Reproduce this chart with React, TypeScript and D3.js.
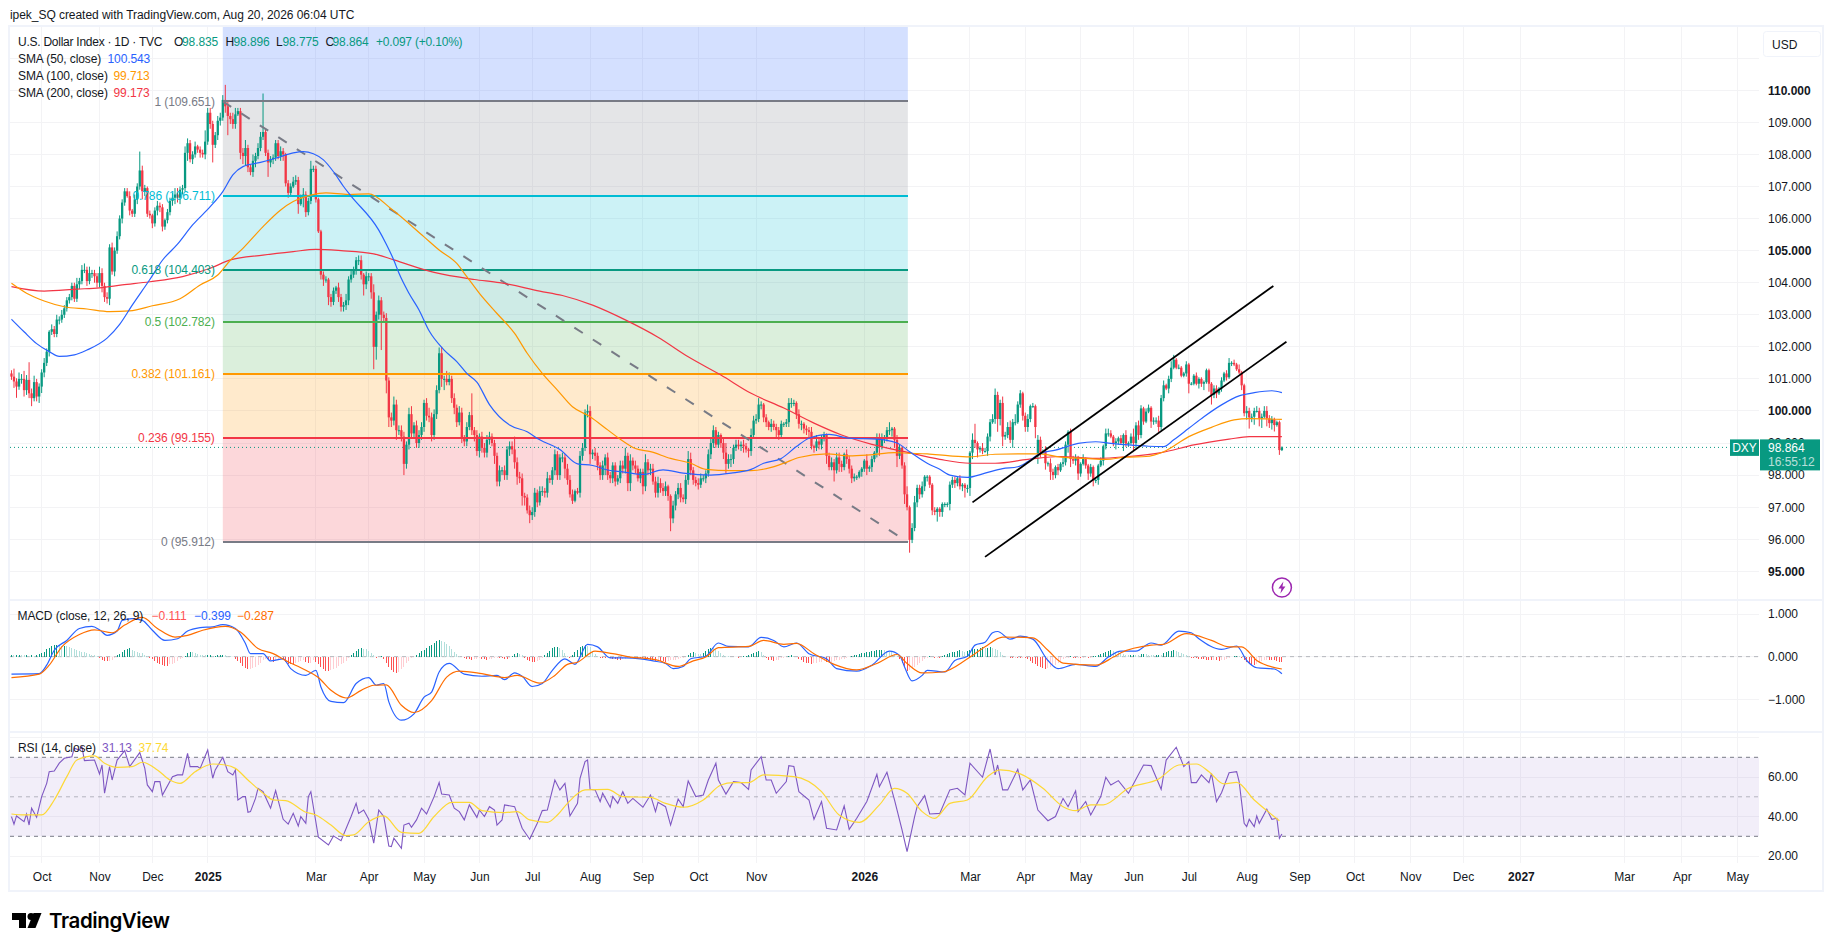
import React, { useEffect, useRef } from 'react';
import * as d3 from 'd3';

// bar 0 is the first weekday on screen
const firstBarDate = '2024-09-13';

// daily closes, one line per month
const closes = [
  101.07,100.92,100.76,101.0,101.0,100.65,100.97,100.55,100.4,100.9,100.45,100.76,
  101.2,101.5,101.85,102.47,102.55,102.4,102.85,102.85,103.0,103.2,103.45,103.55,103.9,103.5,103.95,104.05,104.4,104.4,104.05,104.3,104.3,104.2,104.0,
  104.3,103.9,103.55,103.5,105.1,104.35,105.0,105.45,106.0,106.5,106.85,106.7,106.25,106.15,106.6,107.0,107.5,106.85,106.95,106.15,106.1,
  105.85,106.25,106.4,106.35,105.75,105.95,106.2,106.55,106.65,106.75,106.65,106.9,106.95,108.05,108.35,107.85,108.0,108.25,108.15,108.05,108.0,108.4,
  109.3,108.95,108.3,108.6,109.05,109.15,109.7,109.5,109.2,109.1,108.95,109.25,109.35,108.05,107.95,108.2,107.6,107.45,107.8,107.95,108.2,108.55,108.7,
  108.05,107.75,107.85,107.9,108.35,107.95,108.1,108.0,107.1,106.8,107.0,107.15,107.2,106.45,106.65,106.75,106.2,106.55,107.55,107.55,
  106.6,105.6,104.25,104.1,104.1,103.55,103.4,103.75,103.85,103.55,103.25,103.3,103.45,104.1,104.25,104.4,104.7,104.7,104.25,103.95,104.2,
  104.2,103.7,102.0,103.0,103.45,103.0,102.9,100.95,99.8,99.7,100.2,99.4,99.4,99.2,98.35,98.95,99.9,99.3,99.55,99.0,99.25,99.5,
  100.25,99.85,99.8,99.25,99.9,100.65,101.8,101.0,101.0,100.9,101.0,100.4,100.1,99.65,99.95,99.15,99.05,99.5,99.87,99.4,99.25,98.75,
  99.2,98.85,98.7,99.1,99.2,99.0,98.6,97.8,98.15,98.15,98.0,98.8,98.9,98.8,98.4,97.95,97.9,97.35,97.3,96.9,96.75,
  96.85,97.45,97.15,97.5,97.5,97.45,97.9,97.85,98.15,98.65,98.0,98.55,98.55,98.2,97.85,97.4,97.2,97.5,97.45,98.6,98.85,99.95,100.0,
  98.65,98.7,98.6,98.3,98.0,98.3,98.55,98.0,97.9,98.3,97.8,97.9,98.3,98.2,98.6,97.75,98.45,98.3,98.2,97.9,98.1,
  97.65,98.4,98.15,98.2,97.8,97.45,97.75,97.6,97.5,97.65,97.35,96.65,97.05,97.4,97.6,97.3,97.25,97.85,98.5,98.15,97.85,97.75,
  97.7,97.9,97.9,98.05,98.65,99.0,99.4,98.95,99.25,99.0,98.7,98.35,98.5,98.5,98.85,98.95,98.9,98.95,98.9,98.8,98.75,99.25,99.7,
  99.75,100.2,100.2,99.8,99.65,99.5,99.6,99.5,99.4,99.25,99.6,99.6,99.65,100.25,100.25,100.25,99.9,99.6,99.6,99.45,
  99.4,99.35,98.9,98.85,99.05,98.95,99.15,99.25,98.6,98.25,98.4,98.15,98.55,98.35,98.25,98.65,98.5,98.2,97.9,97.95,97.95,98.1,98.2,
  98.45,98.2,98.25,98.5,98.7,99.15,98.9,99.15,99.15,99.4,99.4,99.45,99.1,98.6,98.85,98.3,97.4,97.0,95.98,96.35,97.15,97.6,
  97.4,97.65,97.95,97.95,97.7,96.9,96.85,96.95,96.85,97.1,97.1,97.1,97.7,97.85,97.75,97.9,97.65,97.7,97.6,97.6,
  98.7,99.1,99.0,98.8,98.85,98.75,98.75,99.2,99.65,99.75,100.5,99.75,100.25,99.2,99.25,99.5,99.1,99.65,99.65,100.2,100.55,99.85,
  99.5,99.75,100.15,100.15,99.5,99.1,98.7,98.75,98.37,98.37,98.1,98.0,98.25,98.15,98.35,98.4,98.95,99.35,98.5,98.45,98.55,98.05,
  98.35,98.5,98.3,98.05,98.25,97.85,97.85,98.3,98.45,98.9,99.3,99.3,99.2,99.0,99.05,99.15,99.0,99.25,98.98,99.0,99.2,
  99.0,99.55,99.25,100.08,99.67,99.98,100.1,99.67,99.7,99.7,99.5,100.4,100.8,100.7,101.0,101.35,101.6,101.35,101.35,101.1,101.17,101.45,
  100.85,100.85,101.1,100.85,101.0,100.85,100.9,101.27,100.85,100.5,100.7,100.55,100.7,100.95,101.17,101.05,101.5,101.5,101.45,101.3,101.2,100.8,99.93,
  100.0,99.8,99.82,100.0,100.0,99.77,99.82,100.0,99.77,99.62,99.74,99.56,99.65,98.78,98.864,
];

// bars whose open is not the previous close
const gapOpens: Record<number, number> = { 408: 98.65 };

// wick lengths above and below the body, in hundredths
const upperWicks = [
  10,25,10,20,15,25,15,55,15,20,10,10,
  10,15,10,5,15,10,15,10,15,10,10,10,10,10,20,10,15,20,10,20,10,10,10,
  20,15,10,15,10,15,10,15,10,10,10,10,15,5,15,10,59,15,10,5,10,
  5,10,15,10,10,5,10,10,15,20,20,10,10,20,15,10,10,15,5,10,10,35,
  15,15,10,10,15,15,15,47,15,10,20,20,10,10,15,25,10,10,20,10,15,15,120,
  10,10,10,10,10,10,15,10,5,10,10,15,15,10,10,20,10,10,25,10,
  10,5,5,10,10,5,10,10,5,15,10,10,20,10,15,10,10,15,15,5,15,
  10,10,25,10,15,10,10,15,10,15,25,15,15,15,15,10,20,25,10,15,15,15,
  10,15,25,15,15,15,18,20,10,25,20,10,15,10,20,15,10,15,10,68,10,15,
  10,15,15,15,15,10,10,10,15,10,15,10,15,15,40,15,15,15,10,10,15,
  15,15,10,15,15,10,20,10,10,15,10,10,15,10,15,15,15,5,10,15,15,10,20,
  15,10,15,10,10,15,10,15,10,10,10,10,15,15,25,10,20,10,15,10,10,
  10,25,10,15,15,15,20,15,15,15,5,5,15,10,15,15,10,15,25,20,10,10,
  15,15,10,10,15,15,15,10,10,5,15,30,15,15,10,15,15,10,15,10,5,20,15,
  15,20,10,5,10,5,15,10,10,10,10,5,10,15,15,10,5,15,10,5,
  10,10,15,5,20,10,10,10,5,10,15,10,15,15,10,5,15,10,10,10,5,5,5,
  5,20,5,10,5,15,15,15,10,10,25,5,5,15,10,5,10,25,5,15,20,10,
  10,15,5,5,5,5,10,5,5,5,5,5,10,10,10,5,10,5,5,10,
  5,20,50,5,5,15,10,10,10,15,20,10,10,20,10,15,20,10,25,10,10,5,
  10,15,5,10,5,15,10,5,15,5,15,10,5,10,5,15,10,5,10,10,10,5,
  5,15,5,5,10,5,5,5,10,5,15,15,10,5,10,5,10,5,15,5,10,
  25,10,15,10,5,10,10,5,10,10,15,10,15,5,10,20,15,5,10,5,5,10,
  5,5,5,10,5,5,5,5,5,5,10,10,5,10,5,10,15,5,10,5,15,5,5,
  15,10,10,10,15,10,10,15,15,10,10,5,5,5,3,
];
const lowerWicks = [
  10,20,35,10,15,20,15,15,25,10,15,20,
  20,15,10,15,10,10,10,15,10,10,10,10,10,10,10,15,10,10,15,10,15,20,15,
  15,20,15,15,20,10,15,10,10,15,10,5,15,10,10,15,10,25,15,10,10,
  15,10,15,15,15,10,10,10,15,20,15,20,15,10,25,10,15,10,10,15,10,15,
  10,15,55,10,15,15,10,20,60,15,15,15,5,20,25,30,15,10,15,20,10,10,10,
  10,45,15,15,10,10,15,20,10,15,10,5,10,30,5,30,15,10,10,10,
  10,5,15,20,10,25,15,10,10,15,15,15,15,15,10,10,15,15,15,35,15,
  15,20,70,40,15,110,15,40,30,20,15,30,15,15,35,15,15,15,15,15,15,15,
  15,15,15,20,15,15,10,25,35,10,10,15,20,15,10,15,15,15,10,15,20,15,
  20,15,15,15,15,10,25,15,15,15,15,15,20,15,20,25,15,30,25,10,25,
  15,15,15,10,15,15,15,10,15,15,15,15,15,30,15,10,10,5,5,15,15,10,15,
  30,15,15,15,15,15,30,15,15,15,15,10,15,15,15,25,25,15,15,10,15,
  25,15,15,15,10,15,15,15,15,15,15,40,15,15,15,15,10,15,15,15,15,10,
  15,10,10,15,10,15,15,10,10,15,20,30,15,25,15,10,10,15,20,10,20,15,10,
  10,10,15,15,15,10,15,10,25,15,10,10,10,15,15,10,15,15,20,15,
  15,20,10,15,10,15,15,10,25,10,10,35,10,25,15,10,15,15,15,10,10,5,15,
  10,20,10,15,10,15,30,10,15,10,15,20,25,35,10,10,30,10,40,10,10,15,
  15,10,15,15,10,15,10,30,15,15,10,10,20,10,15,10,10,15,30,15,
  25,20,15,25,10,10,5,15,15,5,15,40,20,30,10,10,10,25,10,5,10,15,
  15,15,10,5,35,30,15,5,20,10,25,15,10,15,5,10,10,25,25,10,15,20,
  10,5,10,20,10,20,10,15,5,15,10,10,5,10,20,10,5,25,10,10,5,
  25,15,15,10,10,5,5,20,10,10,15,10,10,5,15,10,5,5,5,5,5,10,
  30,5,5,5,15,10,20,5,25,30,10,15,5,10,5,10,5,10,5,5,5,15,10,
  20,35,15,25,5,25,30,5,25,15,20,20,5,15,3,
];

// moving averages as bar / value vertices
const sma50Bars = [0,5,10,15,19,25,30,38,43,48,55,60,66,72,79,84,88,92,99,105,112,116,120,124,128,132,135,146,149,152,154,158,162,166,172,177,181,185,190,198,205,210,218,225,231,237,243,251,259,267,278,286,294,299,306,312,317,325,333,344,352,357,364,369,373,380,387,394,400,404,409,415,420,424,431,437,444,452,458,462,468,474,481,488,494,501,505];
const sma50Values = [102.86,102.47,102.1,101.85,101.7,101.75,101.9,102.27,102.7,103.3,104.1,104.7,105.2,105.8,106.37,106.84,107.36,107.62,107.75,107.88,108.05,108.09,108.02,107.83,107.46,107.0,106.7,105.64,105.2,104.7,104.3,103.67,103.15,102.5,101.9,101.54,101.17,100.9,100.2,99.56,99.35,99.1,98.8,98.35,98.3,98.16,98.1,98.02,98.16,98.06,98.0,98.06,98.18,98.37,98.52,98.89,99.15,99.27,99.15,99.12,99.0,98.73,98.37,98.18,98.0,97.93,98.06,98.2,98.26,98.42,98.68,98.78,98.9,98.99,99.04,98.99,98.94,98.9,98.89,99.1,99.46,99.82,100.19,100.47,100.57,100.63,100.57];
const sma100Bars = [0,6,13,21,30,39,47,56,67,75,82,87,92,100,107,112,119,125,134,142,151,164,170,177,181,186,193,200,205,211,217,223,230,237,242,248,254,262,270,276,286,294,302,307,313,324,333,341,351,357,364,373,381,391,400,409,417,427,435,443,451,458,468,477,486,492,505];
const sma100Values = [103.98,103.67,103.43,103.25,103.18,103.1,103.12,103.28,103.5,103.93,104.24,104.7,105.07,105.75,106.27,106.53,106.73,106.8,106.75,106.77,106.3,105.43,105.02,104.6,104.19,103.67,103.04,102.42,101.8,101.17,100.65,100.13,99.82,99.41,99.12,98.83,98.73,98.52,98.37,98.18,98.14,98.14,98.24,98.37,98.55,98.66,98.6,98.63,98.7,98.68,98.66,98.6,98.57,98.65,98.66,98.66,98.56,98.52,98.49,98.56,98.58,98.73,99.2,99.49,99.72,99.76,99.74];
const sma200Bars = [0,13,26,35,44,55,68,79,87,100,112,121,131,144,152,168,184,194,210,219,231,244,257,269,282,294,307,319,330,342,355,369,381,391,404,417,431,444,457,470,484,492,505];
const sma200Values = [103.88,103.74,103.8,103.84,103.93,104.03,104.19,104.45,104.71,104.86,104.97,105.04,105.0,104.9,104.71,104.32,104.1,104.0,103.74,103.6,103.3,102.84,102.3,101.69,101.12,100.55,100.09,99.62,99.25,98.96,98.73,98.49,98.37,98.37,98.49,98.58,98.52,98.58,98.7,98.94,99.12,99.2,99.2];

const macdBars = [0,11,14,17,22,27,32,35,38,42,44,48,52,56,61,66,70,75,80,84,89,93,95,100,103,108,111,117,121,123,127,132,137,142,145,148,150,155,160,164,167,170,174,180,187,193,196,200,203,207,211,215,220,224,229,233,238,244,250,255,260,263,267,270,276,281,285,293,298,303,307,312,317,324,328,336,342,349,353,355,358,362,364,371,375,380,383,387,390,392,397,401,406,412,416,423,431,436,441,447,453,457,464,469,472,481,487,491,495,502,505];
const macdValues = [-0.41,-0.40,-0.20,0.15,0.38,0.66,0.71,0.63,0.50,0.60,0.85,0.89,0.85,0.62,0.38,0.42,0.60,0.68,0.70,0.75,0.66,0.31,0.07,0.07,-0.10,-0.05,-0.28,-0.44,-0.32,-0.71,-1.05,-1.08,-0.63,-0.49,-0.67,-0.63,-1.06,-1.49,-1.34,-0.95,-0.83,-0.36,-0.16,-0.41,-0.46,-0.44,-0.54,-0.38,-0.46,-0.70,-0.63,-0.32,-0.05,-0.18,0.29,0.23,-0.03,-0.03,-0.05,-0.10,-0.16,-0.28,-0.23,-0.05,0.01,0.32,0.24,0.23,0.45,0.38,0.23,0.32,0.07,-0.05,-0.28,-0.34,-0.20,0.13,0.03,-0.24,-0.57,-0.44,-0.32,-0.36,-0.09,0.01,0.27,0.34,0.56,0.59,0.41,0.48,0.41,-0.09,-0.28,-0.18,-0.23,-0.01,0.13,0.13,0.32,0.27,0.60,0.56,0.42,0.17,0.25,-0.09,-0.26,-0.29,-0.40];
const signalBars = [0,11,15,20,27,33,40,45,52,58,65,70,76,85,91,98,104,109,117,122,127,133,139,144,149,155,160,167,173,178,187,196,201,210,216,221,225,232,239,246,254,256,265,271,276,281,293,299,307,312,319,327,336,344,352,356,362,370,380,387,394,406,412,418,431,438,441,453,458,467,477,484,489,495,505];
const signalValues = [-0.49,-0.41,-0.20,0.23,0.52,0.63,0.56,0.74,0.92,0.66,0.46,0.50,0.62,0.71,0.58,0.19,0.07,-0.09,-0.32,-0.49,-0.79,-0.97,-0.79,-0.67,-0.66,-1.14,-1.31,-1.03,-0.48,-0.34,-0.40,-0.49,-0.44,-0.62,-0.44,-0.18,-0.13,0.13,0.07,-0.01,-0.05,-0.07,-0.23,-0.10,-0.01,0.21,0.24,0.38,0.29,0.31,0.07,-0.18,-0.31,-0.16,0.05,-0.16,-0.38,-0.36,-0.05,0.23,0.46,0.44,0.15,-0.15,-0.20,-0.01,0.09,0.27,0.29,0.54,0.38,0.23,0.23,-0.09,-0.29];

// histogram per bar, in hundredths
const macdHist = [
  5,4,4,5,4,3,3,2,3,2,3,6,
  8,12,17,20,24,27,28,27,25,25,24,22,20,18,16,14,12,10,9,7,5,3,1,
  -4,-8,-10,-11,-10,-7,-3,3,7,11,16,19,20,16,13,11,9,8,5,2,-2,
  -6,-10,-14,-18,-20,-22,-22,-18,-17,-14,-10,-6,-3,1,9,12,10,8,6,5,4,3,
  3,3,2,2,3,4,4,3,2,1,-1,-5,-10,-16,-22,-27,-30,-29,-27,-24,-20,-14,-9,
  -5,-6,-9,-12,-10,-7,-6,-8,-13,-17,-18,-18,-14,-12,-10,-9,-12,-16,-15,-8,
  -12,-18,-24,-30,-33,-33,-32,-30,-26,-22,-18,-14,-10,-3,4,9,14,18,20,19,17,
  13,8,3,-2,-1,1,-6,-14,-25,-32,-36,-38,-36,-30,-24,-16,-10,-4,0,3,8,13,
  16,20,24,28,33,37,38,36,34,30,24,18,12,6,2,-1,-3,-5,-6,-7,-6,-5,
  -4,-5,-6,-7,-6,-5,-3,-2,-2,-4,-5,-6,-2,2,6,8,6,3,-3,-7,-10,
  -12,-13,-10,-8,-2,4,9,14,20,23,23,21,16,8,1,-2,4,10,16,22,25,28,26,
  22,14,6,2,-2,-3,-3,-1,-3,-5,-6,-7,-8,-6,-5,-4,-4,-2,-1,-2,-3,
  -4,-5,-6,-8,-9,-10,-9,-10,-11,-12,-10,-9,-8,-7,-5,-4,-2,-1,4,9,10,9,
  7,6,8,14,19,21,20,17,13,9,5,2,1,0,-1,-1,-2,-1,1,2,4,7,9,
  12,13,11,5,-3,-7,-9,-10,-9,-7,-4,-2,-1,1,3,2,-1,-5,-9,-12,
  -14,-16,-17,-15,-14,-13,-12,-11,-12,-14,-12,-10,-9,-8,-6,-5,-3,-1,1,3,5,6,8,
  9,11,12,13,14,15,15,16,15,14,12,10,6,2,-5,-14,-24,-33,-32,-28,-24,-20,
  -15,-10,-6,-2,1,-1,-3,-2,-2,1,4,7,9,11,12,14,15,13,12,13,
  15,17,18,19,20,22,20,21,22,21,18,16,10,5,2,-1,-2,-3,-2,-3,-4,-2,
  -2,-6,-10,-14,-18,-22,-25,-27,-28,-26,-24,-22,-19,-15,-10,-6,-3,-2,1,-2,-3,-2,
  -3,-2,-1,-3,-2,1,2,3,6,9,12,14,15,14,12,10,8,6,5,4,5,
  5,4,3,6,7,6,5,4,3,4,5,4,9,12,13,14,15,13,11,8,6,3,
  2,-2,-3,-4,-5,-6,-6,-7,-8,-8,-7,-9,-10,-9,-7,-5,-3,-1,1,2,1,-3,-8,
  -12,-16,-19,-20,-18,-12,-10,-8,-7,-7,-8,-9,-10,-12,-13,
];

const rsiBars = [0,1,2,5,6,7,8,10,12,14,15,17,19,21,24,25,27,28,29,33,35,36,37,39,40,42,45,47,51,53,54,56,57,59,60,64,66,68,70,71,74,75,78,80,81,84,86,88,89,90,92,93,94,95,97,98,100,103,105,108,110,112,114,115,117,118,119,122,126,128,131,135,137,138,140,142,144,146,148,150,151,152,155,156,158,159,161,163,165,168,170,171,174,176,178,180,182,185,186,188,190,192,193,195,196,200,203,206,209,211,213,216,218,220,222,225,226,228,229,230,232,234,235,238,239,241,243,245,247,251,254,256,257,260,262,265,267,269,272,275,277,280,281,284,287,290,293,294,298,300,302,304,308,309,311,313,317,319,322,324,328,331,333,336,340,344,345,348,351,354,356,359,360,363,365,369,373,376,379,381,386,389,391,392,394,396,400,402,405,408,412,415,418,420,423,424,427,429,433,435,437,440,444,450,453,457,459,463,466,468,469,471,473,476,477,479,481,484,487,488,490,491,492,494,495,496,499,501,503,504,505];
const rsiValues = [40.0,36.1,40.3,37.4,41.3,35.7,44.2,39.6,50.1,56.8,62.7,63.1,67.0,69.5,70.3,74.6,73.7,75.4,68.3,68.6,61.6,66.1,51.8,65.3,58.5,68.6,73.4,65.3,72.4,64.4,56.0,52.6,57.7,57.7,50.9,60.2,61.1,61.1,72.0,65.3,65.3,64.4,73.7,59.4,63.6,70.0,62.7,61.1,63.6,48.4,50.1,50.1,42.2,42.5,49.2,54.3,52.6,44.2,53.1,38.6,36.2,41.6,35.2,40.0,36.6,50.1,52.6,29.5,25.6,30.2,27.8,40.0,46.7,41.6,43.3,38.6,26.5,43.3,40.0,25.1,24.8,29.0,23.9,35.7,36.6,34.6,38.3,44.2,41.3,50.1,57.2,51.4,50.9,44.2,42.5,38.3,45.9,39.6,43.3,40.0,45.0,43.3,35.7,38.3,45.9,45.0,34.1,28.5,36.6,43.0,43.3,58.5,53.5,56.8,40.3,46.7,59.4,67.8,68.6,53.8,53.5,47.6,51.8,44.7,50.1,46.7,52.6,46.7,49.2,44.7,50.9,42.5,47.2,45.0,35.7,48.9,45.0,58.0,50.1,50.9,58.5,67.0,58.5,51.4,57.7,57.2,53.8,63.6,70.3,58.5,58.5,51.8,57.7,65.8,65.3,52.6,48.4,38.6,47.6,34.1,33.2,45.4,33.5,39.1,47.6,61.4,55.1,62.4,48.4,33.2,22.2,40.0,45.0,50.6,41.3,41.6,53.5,54.3,50.9,67.0,59.9,74.2,61.1,66.1,53.5,53.5,63.9,53.5,58.5,43.3,37.9,40.0,49.2,45.0,53.0,42.5,47.6,40.8,50.1,59.9,56.0,58.2,51.8,66.1,65.8,53.8,68.6,75.1,65.3,67.8,57.2,57.2,61.1,57.2,61.9,47.6,52.1,62.2,62.7,57.7,36.6,34.9,38.6,34.9,40.3,36.6,43.7,38.6,39.1,29.0,31.2];
const rsiMaBars = [0,5,12,17,22,26,33,37,42,48,52,58,63,67,73,80,85,89,94,101,104,109,117,121,127,133,136,142,148,155,162,168,175,182,187,196,201,206,213,217,221,228,237,243,254,260,267,275,282,287,293,299,311,322,329,337,345,351,356,362,367,373,380,388,393,401,410,418,423,429,434,444,456,464,471,476,482,487,494,499,504];
const rsiMaValues = [41.3,40.8,40.8,48.4,60.2,68.6,70.7,67.0,64.9,65.3,67.5,63.6,58.5,56.8,62.7,66.6,66.1,64.4,58.5,50.9,48.4,48.1,42.2,40.8,35.7,30.3,30.7,37.4,40.3,32.0,31.5,40.0,47.2,47.2,43.0,42.0,42.5,38.3,37.1,40.8,46.7,53.5,53.8,50.1,49.7,46.7,44.7,48.4,56.0,57.2,57.2,61.1,60.2,52.6,40.8,37.1,45.9,54.3,51.8,42.5,39.1,46.7,48.4,60.2,63.6,61.6,54.3,45.0,43.0,45.9,45.9,54.3,59.0,66.1,66.6,62.7,56.5,57.3,48.4,43.0,37.9];

// fibonacci retracement
const fibRatios = ['1', '0.786', '0.618', '0.5', '0.382', '0.236', '0'];
const fibPrices = [109.651, 106.711, 104.403, 102.782, 101.161, 99.155, 95.912];
const fibColors = ['#787b86', '#00bcd4', '#089981', '#4caf50', '#ff9800', '#f23645', '#787b86'];
const fibTopPrice = 118.14;
const fibStartBar = 84;
const fibEndBar = 356.3;

// hand drawn channel, [bar, price] ends
const channelUpper = [[382, 97.15], [501.6, 103.9]];
const channelLower = [[387, 95.45], [506.8, 102.16]];

const priceTicks = [110, 109, 108, 107, 106, 105, 104, 103, 102, 101, 100, 99, 98, 97, 96, 95];
const priceGrid = [111, ...priceTicks];
const boldPrices = [110, 105, 100, 95];
const macdTicks = [1, 0, -1];
const rsiTicks = [60, 40, 20];
const rsiGrid = [80, 60, 40, 20];
const lastPrice = 98.864;

const timeTicks = ['2024-10-01','2024-11-01','2024-12-02','2025-01-01','2025-03-03','2025-04-01','2025-05-01','2025-06-02','2025-07-01','2025-08-01','2025-09-01','2025-10-01','2025-11-03','2026-01-01','2026-03-02','2026-04-01','2026-05-01','2026-06-01','2026-07-01','2026-08-03','2026-09-01','2026-10-01','2026-11-02','2026-12-01','2027-01-01','2027-03-01','2027-04-01','2027-05-03'];
const timeLabels = ['Oct','Nov','Dec','2025','Mar','Apr','May','Jun','Jul','Aug','Sep','Oct','Nov','2026','Mar','Apr','May','Jun','Jul','Aug','Sep','Oct','Nov','Dec','2027','Mar','Apr','May'];

const FONT = '"Liberation Sans", Arial, sans-serif';
const UP = '#089981';
const DOWN = '#f23645';
const GRID = '#f3f3f5';
const BORDER = '#f0f3fa';

const barOf = (date: string) =>
  d3.utcDay.range(new Date(firstBarDate), new Date(date)).filter((d) => d.getUTCDay() % 6 !== 0).length;

const zip = (xs: number[], ys: number[]) => xs.map((x, i) => [x, ys[i]] as [number, number]);

function drawText(g: any, x: number, y: number, text: string, fill: string, opts: any = {}) {
  return g
    .append('text')
    .attr('x', x)
    .attr('y', y)
    .attr('dy', '0.36em')
    .attr('fill', fill)
    .attr('font-size', opts.size ?? 12)
    .attr('font-weight', opts.weight ?? 400)
    .attr('text-anchor', opts.anchor ?? 'start')
    .attr('opacity', opts.opacity ?? 1)
    .attr('letter-spacing', opts.spacing ?? 0)
    .text(text);
}

const App: React.FC = () => {
  const svgRef = useRef<SVGSVGElement>(null);

  useEffect(() => {
    if (!svgRef.current) return;
    const svg = d3.select(svgRef.current);
    svg.selectAll('*').remove();
    svg.attr('font-family', FONT);

    const left = 10;
    const right = 1759;
    const paneTop = 27;
    const priceBottom = 600;
    const macdBottom = 732;
    const rsiBottom = 862;
    const frameBottom = 891;
    const frameRight = 1823;

    const x = d3.scaleLinear().domain([78, 339]).range([207.7, 864.3]);
    const yPrice = d3.scaleLinear().domain([110, 95]).range([90.3, 571.3]);
    const yMacd = d3.scaleLinear().domain([1, -1]).range([614, 699.3]);
    const yRsi = d3.scaleLinear().domain([70, 30]).range([757.3, 836.3]);

    const defs = svg.append('defs');
    defs.append('clipPath').attr('id', 'price-clip').append('rect')
      .attr('x', left).attr('y', paneTop).attr('width', right - left).attr('height', priceBottom - paneTop);

    svg.append('rect').attr('width', 1835).attr('height', 951).attr('fill', '#fff');

    // grid
    const grid = svg.append('g').attr('stroke', GRID).attr('stroke-width', 1).attr('shape-rendering', 'crispEdges');
    const hLine = (y: number) => grid.append('line').attr('x1', left).attr('x2', right).attr('y1', y).attr('y2', y);
    priceGrid.forEach((v) => hLine(yPrice(v)));
    macdTicks.forEach((v) => hLine(yMacd(v)));
    rsiGrid.forEach((v) => hLine(yRsi(v)));
    timeTicks.forEach((t) => {
      const xt = x(barOf(t));
      grid.append('line').attr('x1', xt).attr('x2', xt).attr('y1', paneTop).attr('y2', rsiBottom + 1);
    });

    // price pane
    const price = svg.append('g').attr('clip-path', 'url(#price-clip)');
    const fibX0 = x(fibStartBar);
    const fibX1 = x(fibEndBar);
    price.append('rect').attr('x', fibX0).attr('width', fibX1 - fibX0)
      .attr('y', yPrice(fibTopPrice)).attr('height', yPrice(fibPrices[0]) - yPrice(fibTopPrice))
      .attr('fill', '#2962ff').attr('opacity', 0.2);
    fibPrices.slice(0, -1).forEach((p, i) => {
      price.append('rect').attr('x', fibX0).attr('width', fibX1 - fibX0)
        .attr('y', yPrice(p)).attr('height', yPrice(fibPrices[i + 1]) - yPrice(p))
        .attr('fill', fibColors[i]).attr('opacity', 0.2);
    });
    // price line under the candles
    price.append('line').attr('x1', left).attr('x2', right).attr('y1', yPrice(lastPrice)).attr('y2', yPrice(lastPrice))
      .attr('stroke', UP).attr('stroke-width', 1).attr('stroke-dasharray', '1 3');

    const bars = closes.map((c, i) => {
      const o = gapOpens[i] ?? (i === 0 ? c + 0.1 : closes[i - 1]);
      return {
        i,
        o,
        c,
        h: Math.max(o, c) + upperWicks[i] / 100,
        l: Math.min(o, c) - lowerWicks[i] / 100,
      };
    });
    const candles = price.append('g');
    candles.selectAll('line').data(bars).enter().append('line')
      .attr('x1', (d) => x(d.i)).attr('x2', (d) => x(d.i))
      .attr('y1', (d) => yPrice(d.h)).attr('y2', (d) => yPrice(d.l))
      .attr('stroke', (d) => (d.c >= d.o ? UP : DOWN)).attr('stroke-width', 1);
    candles.selectAll('rect').data(bars).enter().append('rect')
      .attr('x', (d) => x(d.i) - 1.15).attr('width', 2.3)
      .attr('y', (d) => yPrice(Math.max(d.o, d.c)))
      .attr('height', (d) => Math.max(1, Math.abs(yPrice(d.o) - yPrice(d.c))))
      .attr('fill', (d) => (d.c >= d.o ? UP : DOWN));

    // fib lines
    fibPrices.forEach((p, i) => {
      price.append('line').attr('x1', fibX0).attr('x2', fibX1).attr('y1', yPrice(p)).attr('y2', yPrice(p))
        .attr('stroke', fibColors[i]).attr('stroke-width', 2).attr('shape-rendering', 'crispEdges');
    });
    price.append('line')
      .attr('x1', fibX0).attr('y1', yPrice(fibPrices[0]))
      .attr('x2', fibX1).attr('y2', yPrice(fibPrices[6]))
      .attr('stroke', '#787b86').attr('stroke-width', 2).attr('stroke-dasharray', '10 12');

    const smoothPrice = d3.line<[number, number]>().x((d) => x(d[0])).y((d) => yPrice(d[1])).curve(d3.curveMonotoneX);
    [
      [sma200Bars, sma200Values, DOWN],
      [sma100Bars, sma100Values, '#ff9800'],
      [sma50Bars, sma50Values, '#2962ff'],
    ].forEach(([bs, vs, color]: any) => {
      price.append('path').attr('d', smoothPrice(zip(bs, vs))).attr('fill', 'none').attr('stroke', color).attr('stroke-width', 1.2);
    });

    const straight = d3.line<number[]>().x((d) => x(d[0])).y((d) => yPrice(d[1]));
    [channelUpper, channelLower].forEach((c) => {
      price.append('path').attr('d', straight(c)).attr('fill', 'none').attr('stroke', '#000').attr('stroke-width', 1.8);
    });

    // fib labels, right aligned against the left edge of the tool
    fibPrices.forEach((p, i) => {
      drawText(svg, fibX0 - 8, yPrice(p), `${fibRatios[i]} (${p.toFixed(3)})`, fibColors[i], { anchor: 'end', spacing: -0.1 });
    });

    // MACD pane
    const macd = svg.append('g');
    macd.append('line').attr('x1', left).attr('x2', right).attr('y1', yMacd(0)).attr('y2', yMacd(0))
      .attr('stroke', '#787b86').attr('stroke-opacity', 0.5).attr('stroke-dasharray', '4 4');
    macd.append('g').attr('shape-rendering', 'crispEdges').selectAll('rect').data(macdHist).enter().append('rect')
      .attr('x', (_d, i) => x(i) - 0.5).attr('width', 1)
      .attr('y', (d) => yMacd(Math.max(d, 0) / 100))
      .attr('height', (d) => Math.abs(yMacd(d / 100) - yMacd(0)))
      .attr('fill', (d, i) => {
        const prev = i > 0 ? macdHist[i - 1] : d;
        if (d >= 0) return d >= prev ? UP : '#b2dfdb';
        return d <= prev ? '#ff5252' : '#ffcdd2';
      });
    const smoothMacd = d3.line<[number, number]>().x((d) => x(d[0])).y((d) => yMacd(d[1])).curve(d3.curveMonotoneX);
    macd.append('path').attr('d', smoothMacd(zip(macdBars, macdValues))).attr('fill', 'none').attr('stroke', '#2962ff').attr('stroke-width', 1.2);
    macd.append('path').attr('d', smoothMacd(zip(signalBars, signalValues))).attr('fill', 'none').attr('stroke', '#ff6d00').attr('stroke-width', 1.2);

    // RSI pane
    const rsi = svg.append('g');
    rsi.append('rect').attr('x', left).attr('width', right - left)
      .attr('y', yRsi(70)).attr('height', yRsi(30) - yRsi(70)).attr('fill', '#7e57c2').attr('opacity', 0.1);
    [70, 50, 30].forEach((v) => {
      rsi.append('line').attr('x1', left).attr('x2', right).attr('y1', yRsi(v)).attr('y2', yRsi(v))
        .attr('stroke', '#787b86').attr('stroke-opacity', v === 50 ? 0.5 : 1).attr('stroke-dasharray', '4 4');
    });
    const straightRsi = d3.line<[number, number]>().x((d) => x(d[0])).y((d) => yRsi(d[1]));
    rsi.append('path').attr('d', straightRsi(zip(rsiBars, rsiValues))).attr('fill', 'none').attr('stroke', '#7e57c2').attr('stroke-width', 1.1);
    rsi.append('path').attr('d', straightRsi.curve(d3.curveMonotoneX)(zip(rsiMaBars, rsiMaValues))).attr('fill', 'none').attr('stroke', '#fdd835').attr('stroke-width', 1.2);

    // frame
    const frame = svg.append('g').attr('stroke', BORDER).attr('stroke-width', 2).attr('fill', 'none').attr('shape-rendering', 'crispEdges');
    frame.append('rect').attr('x', 9).attr('y', 26).attr('width', frameRight - 9).attr('height', frameBottom - 26);
    [priceBottom, macdBottom].forEach((y) => {
      frame.append('line').attr('x1', 9).attr('x2', frameRight).attr('y1', y).attr('y2', y);
    });

    // axes
    const styleAxis = (g: any) => {
      g.select('.domain').remove();
      g.selectAll('text').attr('font-size', 12).attr('font-family', FONT).attr('fill', '#131722');
    };
    svg.append('g').attr('transform', `translate(${right},0)`)
      .call(d3.axisRight(yPrice).tickValues(priceTicks).tickSize(0).tickPadding(9).tickFormat(d3.format('.3f')) as any)
      .call(styleAxis)
      .call((g: any) => g.selectAll('text').attr('font-weight', (d: number) => (boldPrices.includes(d) ? 700 : 400)));
    svg.append('g').attr('transform', `translate(${right},0)`)
      .call(d3.axisRight(yMacd).tickValues(macdTicks).tickSize(0).tickPadding(9).tickFormat(d3.format('.3f')) as any)
      .call(styleAxis);
    svg.append('g').attr('transform', `translate(${right},0)`)
      .call(d3.axisRight(yRsi).tickValues(rsiTicks).tickSize(0).tickPadding(9).tickFormat(d3.format('.2f')) as any)
      .call(styleAxis);
    const tickBars = timeTicks.map(barOf);
    svg.append('g').attr('transform', `translate(0,${rsiBottom + 7})`)
      .call(d3.axisBottom(x).tickValues(tickBars).tickSize(0).tickPadding(3)
        .tickFormat((_d: any, i: number) => timeLabels[i]) as any)
      .call(styleAxis)
      .call((g: any) => g.selectAll('text').attr('font-weight', (_d: number, i: number) => (/^\d/.test(timeLabels[i]) ? 700 : 400)));

    // last price tags
    const tagY = yPrice(lastPrice);
    svg.append('rect').attr('x', 1730).attr('y', tagY - 8).attr('width', 29).attr('height', 16.5).attr('fill', UP);
    drawText(svg, 1744.5, tagY, 'DXY', '#fff', { anchor: 'middle' });
    svg.append('rect').attr('x', 1760).attr('y', tagY - 8).attr('width', 60).attr('height', 31).attr('fill', UP);
    drawText(svg, 1768, tagY, lastPrice.toFixed(3), '#fff');
    drawText(svg, 1768, tagY + 14.5, '16:55:12', '#fff', { opacity: 0.7 });

    // USD button
    svg.append('rect').attr('x', 1763.5).attr('y', 31.5).attr('width', 57).attr('height', 25).attr('rx', 3)
      .attr('fill', '#fff').attr('stroke', BORDER);
    drawText(svg, 1772, 44.5, 'USD', '#131722');

    // lightning marker
    const marker = svg.append('g').attr('transform', `translate(${x(505)},587.5)`);
    marker.append('circle').attr('r', 9.5).attr('fill', '#fff').attr('stroke', '#9c27b0').attr('stroke-width', 1.5);
    marker.append('path').attr('d', 'M1.5 -6 L-3.5 1 H-0.5 L-1.5 6 L3.5 -1 H0.5 Z').attr('fill', '#9c27b0');

    // legends
    drawText(svg, 10, 14.5, 'ipek_SQ created with TradingView.com, Aug 20, 2026 06:04 UTC', '#131722', { spacing: -0.05 });
    drawText(svg, 18, 41.5, 'U.S. Dollar Index · 1D · TVC', '#131722', { spacing: -0.25 });
    drawText(svg, 174, 41.5, 'O', '#131722');
    drawText(svg, 182, 41.5, '98.835', UP, { spacing: -0.1 });
    drawText(svg, 225.5, 41.5, 'H', '#131722');
    drawText(svg, 233.5, 41.5, '98.896', UP, { spacing: -0.1 });
    drawText(svg, 276, 41.5, 'L', '#131722');
    drawText(svg, 282.5, 41.5, '98.775', UP, { spacing: -0.1 });
    drawText(svg, 325.5, 41.5, 'C', '#131722');
    drawText(svg, 332.5, 41.5, '98.864', UP, { spacing: -0.1 });
    drawText(svg, 376, 41.5, '+0.097 (+0.10%)', UP, { spacing: -0.2 });
    drawText(svg, 18, 58.5, 'SMA (50, close)', '#131722', { spacing: -0.1 });
    drawText(svg, 107.5, 58.5, '100.543', '#2962ff', { spacing: -0.1 });
    drawText(svg, 18, 75.5, 'SMA (100, close)', '#131722', { spacing: -0.1 });
    drawText(svg, 113.5, 75.5, '99.713', '#ff9800', { spacing: -0.1 });
    drawText(svg, 18, 93, 'SMA (200, close)', '#131722', { spacing: -0.1 });
    drawText(svg, 113.5, 93, '99.173', DOWN, { spacing: -0.1 });
    drawText(svg, 17.5, 615.5, 'MACD (close, 12, 26, 9)', '#131722', { spacing: -0.1 });
    drawText(svg, 151.5, 615.5, '−0.111', '#ff5252');
    drawText(svg, 194, 615.5, '−0.399', '#2962ff');
    drawText(svg, 237, 615.5, '−0.287', '#ff6d00');
    drawText(svg, 18, 747.5, 'RSI (14, close)', '#131722', { spacing: -0.1 });
    drawText(svg, 102, 747.5, '31.13', '#7e57c2');
    drawText(svg, 138.5, 747.5, '37.74', '#fdd835');

    // TradingView logo
    const logo = svg.append('g').attr('fill', '#000');
    logo.append('path').attr('d', 'M12 913 H26 V928 H19 V920 H12 Z');
    logo.append('circle').attr('cx', 31).attr('cy', 916.5).attr('r', 3.5);
    logo.append('path').attr('d', 'M41.5 913 L35.5 928 H27.5 L33.5 913 Z');
    logo.append('text').attr('x', 49).attr('y', 928).attr('font-family', 'Inter, sans-serif')
      .attr('font-size', 20.5).attr('font-weight', 600).attr('letter-spacing', -0.4).text('TradingView');
  }, []);

  return <svg ref={svgRef} width={1835} height={951} style={{ position: 'absolute', left: 0, top: 0, display: 'block' }} />;
};

export default App;
